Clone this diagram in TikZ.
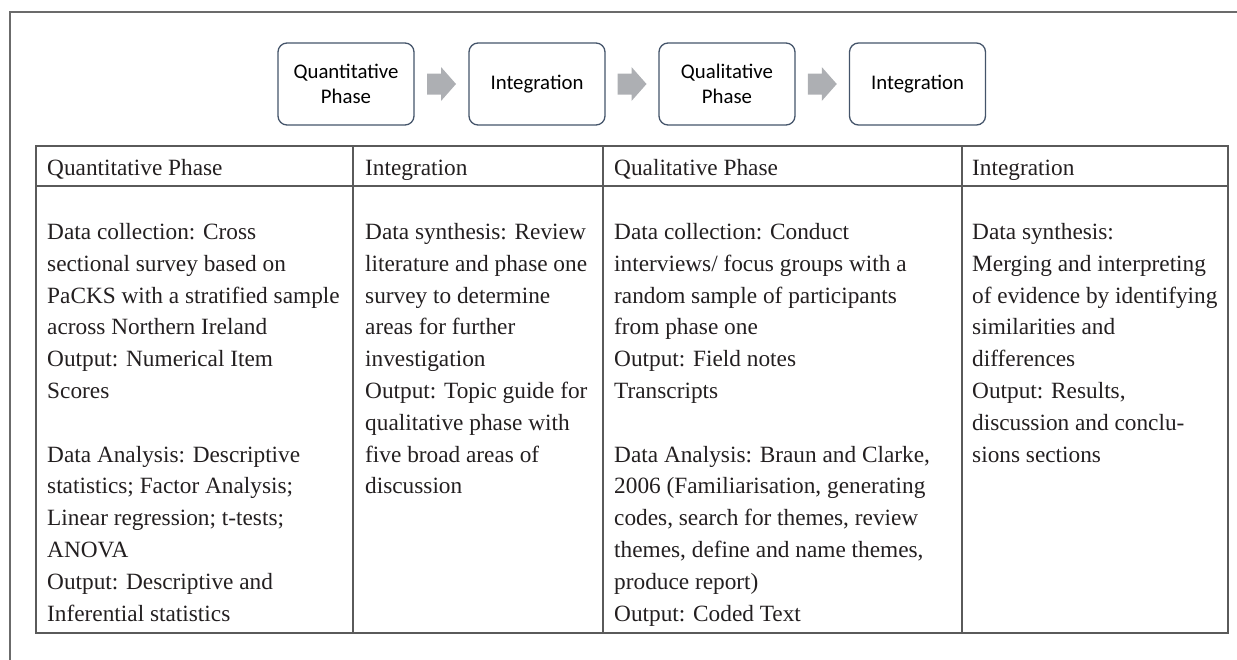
\documentclass[tikz,border=0pt]{standalone}
\usepackage{fontspec}
\setmainfont{Liberation Serif}
\newfontfamily\boxfont{Carlito}
\usetikzlibrary{calc}

\definecolor{boxline}{HTML}{44546A}
\definecolor{arrowfill}{HTML}{ADAFB3}
\definecolor{rulegray}{HTML}{5A5A5A}
\definecolor{framegray}{HTML}{6B6B6B}
\definecolor{ink}{HTML}{231F20}

\begin{document}
\begin{tikzpicture}[x=1pt,y=-1pt,
  phase/.style={draw=boxline, line width=1.3pt, rounded corners=9pt,
    minimum width=136pt, minimum height=82pt, inner sep=0pt, align=center,
    font=\boxfont\fontsize{20.8}{24.5}\selectfont, text=black},
  blockarrow/.style={fill=arrowfill},
  tablerule/.style={draw=rulegray, line width=1.4pt},
  headtext/.style={anchor=base west, inner sep=0pt,
    font=\fontsize{23.3}{31.8}\selectfont, text=ink},
  celltext/.style={anchor=north west, inner sep=0pt, align=left,
    font=\fontsize{23.3}{31.8}\selectfont, text=ink}]
\useasboundingbox (0,0) rectangle (1237,659);

% outer frame (top and left edges)
\draw[draw=framegray, line width=2pt] (1240,12) -- (9.5,12) -- (9.5,662);

% phase sequence
\node[phase] (p1) at (346,84) {Quantitative\\Phase};
\node[phase] (p2) at (537,84) {Integration};
\node[phase] (p3) at (727,84) {Qualitative\\Phase};
\node[phase] (p4) at (917.5,84) {Integration};

\foreach \a/\b in {p1/p2,p2/p3,p3/p4}{
  \coordinate (m) at ($(\a.east)!0.5!(\b.west)$);
  \fill[blockarrow] ($(m)+(-14.5,-10.5)$) -- ++(14,0) -- ++(0,-6.5)
    -- ++(15,17) -- ++(-15,17) -- ++(0,-6.5) -- ++(-14,0) -- cycle;
}

% table grid
\draw[tablerule] (36,146) rectangle (1228,633);
\draw[tablerule] (36,186) -- (1228,186);
\foreach \x in {353,603,962}
  \draw[tablerule] (\x,146) -- (\x,633);

% header row
\node[headtext] (h1) at (47,175) {Quantitative Phase};
\node[headtext] (h2) at (365,175) {Integration};
\node[headtext] (h3) at (614,175) {Qualitative Phase};
\node[headtext] (h4) at (972,175) {Integration};

% body cells
\node[celltext] (c1) at (47,219.2) {\rule{0pt}{20pt}Data collection: Cross\\
sectional survey based on\\
PaCKS with a stratified sample\\
across Northern Ireland\\
Output: Numerical Item\\
Scores\\
\mbox{}\\
Data Analysis: Descriptive\\
statistics; Factor Analysis;\\
Linear regression; t-tests;\\
ANOVA\\
Output: Descriptive and\\
Inferential statistics};

\node[celltext] (c2) at (365,219.2) {\rule{0pt}{20pt}Data synthesis: Review\\
literature and phase one\\
survey to determine\\
areas for further\\
investigation\\
Output: Topic guide for\\
qualitative phase with\\
five broad areas of\\
discussion};

\node[celltext] (c3) at (614,219.2) {\rule{0pt}{20pt}Data collection: Conduct\\
interviews/ focus groups with a\\
random sample of participants\\
from phase one\\
Output: Field notes\\
Transcripts\\
\mbox{}\\
Data Analysis: Braun and Clarke,\\
2006 (Familiarisation, generating\\
codes, search for themes, review\\
themes, define and name themes,\\
produce report)\\
Output: Coded Text};

\node[celltext] (c4) at (972,219.2) {\rule{0pt}{20pt}Data synthesis:\\
Merging and interpreting\\
of evidence by identifying\\
similarities and\\
differences\\
Output: Results,\\
discussion and conclu-\\
sions sections};
\end{tikzpicture}
\end{document}
